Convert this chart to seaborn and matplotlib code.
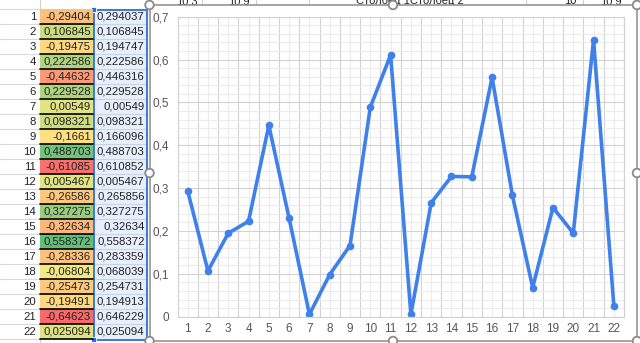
import numpy as np
import pandas as pd
import seaborn as sns
import matplotlib
matplotlib.use("Agg")
import matplotlib.pyplot as plt
from matplotlib.colors import LinearSegmentedColormap, TwoSlopeNorm
from matplotlib.patches import Rectangle, Circle

# ---------------- data ----------------
row_numbers = list(range(1, 23))
column1_signed = [-0.294037, 0.106845, -0.194747, 0.222586, -0.446316, 0.229528,
                  0.00549, 0.098321, -0.166096, 0.488703, -0.610852, 0.005467,
                  -0.265856, 0.327275, -0.32634, 0.558372, -0.283359, -0.068039,
                  -0.254731, -0.194913, -0.646229, 0.025094]
column2_values = [0.294037, 0.106845, 0.194747, 0.222586, 0.446316, 0.229528,
                  0.00549, 0.098321, 0.166096, 0.488703, 0.610852, 0.005467,
                  0.265856, 0.327275, 0.32634, 0.558372, 0.283359, 0.068039,
                  0.254731, 0.194913, 0.646229, 0.025094]
x_categories = list(range(1, 23))
y_ticks = [0, 0.1, 0.2, 0.3, 0.4, 0.5, 0.6, 0.7]
y_tick_labels = ["0", "0,1", "0,2", "0,3", "0,4", "0,5", "0,6", "0,7"]
header_texts = ["10,3", "10,9", "Столбец 1Столбец 2", "10", "10,9"]
header_text_x = [187, 239, 410, 570, 611]


def fmt_general(v, width=8):
    int_len = len(str(int(abs(v)))) + (1 if v < 0 else 0)
    dec = width - int_len - 1
    s = f"{round(v, dec):.{dec}f}".rstrip("0").rstrip(".")
    return s.replace(".", ",")


sns.set_style("white")
plt.rcParams["font.family"] = ["Liberation Sans", "DejaVu Sans"]

W, H = 640, 343
fig = plt.figure(figsize=(W / 100, H / 100), dpi=100)


def fx(px):
    return px / W


def fy(py):
    return 1 - py / H


# ---------------- spreadsheet background ----------------
bg = fig.add_axes([0, 0, 1, 1])
bg.set_xlim(0, W)
bg.set_ylim(H, 0)
bg.axis("off")

top0, rh = 9.3, 15.0
n = len(row_numbers)
for k in range(n + 1):
    yy = top0 + k * rh
    bg.plot([0, 39.5], [yy, yy], color="#dadada", lw=0.8, zorder=1)
bg.plot([39.5, 39.5], [0, H], color="#cfcfcf", lw=0.8, zorder=1)
bg.plot([39.5, 93], [top0, top0], color="#dadada", lw=0.8, zorder=1)
for i, r in enumerate(row_numbers):
    bg.text(36, top0 + (i + 0.5) * rh, str(r), ha="right", va="center",
            fontsize=8.2, color="#222222", zorder=2)

# column 2 (selected cells)
bg.add_patch(Rectangle((93.5, top0), 53, n * rh, facecolor="#e8effc",
                       edgecolor="none", zorder=1))
for k in range(1, n):
    yy = top0 + k * rh
    bg.plot([93.5, 146.5], [yy, yy], color="#c9d3e3", lw=0.8, zorder=2)
for i, v in enumerate(column2_values):
    bg.text(144.5, top0 + (i + 0.5) * rh, fmt_general(v), ha="right",
            va="center", fontsize=8.2, color="#222222", zorder=3)
bg.add_patch(Rectangle((93.5, top0 + 0.5), 53, n * rh, facecolor="none",
                       edgecolor="#3b78d8", lw=1.4, zorder=4))
for (hx, hy) in [(93.5, top0 + 0.5), (93.5, top0 + n * rh + 0.5)]:
    bg.add_patch(Rectangle((hx - 2.5, hy - 2.5), 5, 5, facecolor="#1a73e8",
                           edgecolor="white", lw=0.6, zorder=5))

# header row above the chart (partially hidden behind the chart, as in the sheet)
for t, xx in zip(header_texts, header_text_x):
    bg.text(xx, 1.0, t, ha="center", va="center", fontsize=8,
            color="#222222", zorder=1)
for xx in [202, 256, 309, 526, 583]:
    bg.plot([xx, xx], [0, 5], color="#cfcfcf", lw=0.8, zorder=1)

# chart frame
bg.add_patch(Rectangle((149.5, 5), 637 - 149.5, 341 - 5, facecolor="white",
                       edgecolor="#8c8c8c", lw=1.1, zorder=6))

# ---------------- column 1 : colour scale heatmap ----------------
cmap = LinearSegmentedColormap.from_list(
    "ryg", ["#F8696B", "#FFEB84", "#63BE7B"])
norm = TwoSlopeNorm(vmin=min(column1_signed), vcenter=float(np.median(column1_signed)),
                    vmax=max(column1_signed))
hm = fig.add_axes([fx(39.5), fy(top0 + n * rh), 53 / W, n * rh / H])
df1 = pd.DataFrame({"c1": column1_signed}, index=row_numbers)
sns.heatmap(df1, ax=hm, cmap=cmap, norm=norm, cbar=False,
            xticklabels=False, yticklabels=False)
for i, v in enumerate(column1_signed):
    hm.text(0.97, i + 0.5, fmt_general(v), ha="right", va="center",
            fontsize=8.2, color="#222222")
for i in range(1, n + 1):
    hm.axhline(i, color="black", lw=1.2, clip_on=False)
hm.set_xlabel("")
hm.set_ylabel("")

# ---------------- chart ----------------
ax = fig.add_axes([fx(177.5), fy(316.7), (624 - 177.5) / W, 300 / H])
ax.set_facecolor("white")
sns.lineplot(x=x_categories, y=column2_values, ax=ax, color="#3f80ea",
             lw=2.6, marker="o", markersize=5.5, markeredgewidth=0)
ax.set_xlim(0.5, 22.5)
ax.set_ylim(0, 0.7)
ax.set_xticks(x_categories)
ax.set_xticklabels([str(c) for c in x_categories])
ax.set_xticks(np.arange(0.5, 23, 1), minor=True)
ax.set_yticks(y_ticks)
ax.set_yticklabels(y_tick_labels)
ax.set_yticks(np.arange(0, 0.7001, 0.02), minor=True)
ax.grid(which="major", axis="x", color="#ececec", lw=0.8)
ax.grid(which="minor", axis="x", color="#d2d2d2", lw=0.8)
ax.grid(which="major", axis="y", color="#d2d2d2", lw=0.8)
ax.grid(which="minor", axis="y", color="#ececec", lw=0.8)
ax.set_axisbelow(True)
ax.tick_params(which="both", length=0)
ax.tick_params(axis="x", pad=4.5, labelsize=8.5, labelcolor="#555555")
ax.tick_params(axis="y", pad=6, labelsize=8.5, labelcolor="#555555")
for s in ax.spines.values():
    s.set_color("#d2d2d2")
    s.set_linewidth(0.8)
ax.set_xlabel("")
ax.set_ylabel("")

# ---------------- selection handles ----------------
ov = fig.add_axes([0, 0, 1, 1])
ov.set_xlim(0, W)
ov.set_ylim(H, 0)
ov.axis("off")
ov.patch.set_alpha(0)
for (cx, cy) in [(149.5, 5), (393, 5), (637, 5), (149.5, 173), (637, 173),
                 (149.5, 341), (393, 341), (637, 341)]:
    ov.add_patch(Circle((cx, cy), 4.3, facecolor="white", edgecolor="#8a8a8a",
                        lw=1.3, zorder=10, clip_on=False))

fig.savefig("out.png", dpi=100)
